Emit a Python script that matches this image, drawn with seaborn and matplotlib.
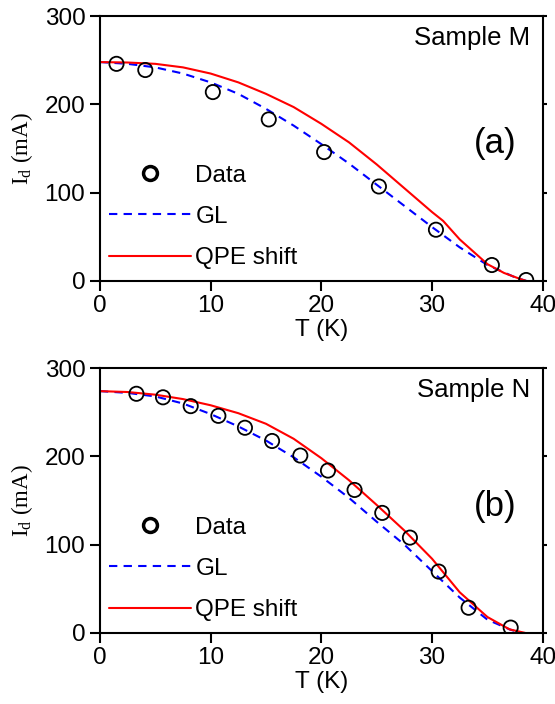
import matplotlib
matplotlib.use("Agg")
import matplotlib.pyplot as plt
from matplotlib.lines import Line2D
import pandas as pd
import seaborn as sns

# Sample M, panel (a)
temp_m = [1.5, 4.1, 10.2, 15.25, 20.25, 25.2, 30.35, 35.4, 38.5]
id_m = [246, 239, 214, 183, 146, 107, 58, 18, 1]

gl_temp_m = [0, 2.5, 5, 7.5, 10, 12.5, 15, 17.5, 20, 22.5, 25, 27.5, 30, 32.5, 35, 37.5, 38.5]
gl_m = [248, 246, 242, 235, 225, 212, 195, 176, 155, 133, 109, 85, 61, 38, 18, 4, 0]

qpe_temp_m = [0, 2.5, 5, 7.5, 10, 12.5, 15, 17.5, 20, 22.5, 25, 27.5, 30, 31, 32.5, 35, 36.5, 38, 38.5]
qpe_m = [248, 247.5, 246, 242, 235, 225, 212, 197, 178, 157, 132, 105, 78, 68, 47, 19, 9, 2, 0]

# Sample N, panel (b)
temp_n = [3.3, 5.7, 8.2, 10.7, 13.1, 15.55, 18.1, 20.6, 23.0, 25.5, 28.0, 30.6, 33.3, 37.1]
id_n = [271, 267, 257, 246, 232.5, 217.5, 201, 184, 162, 136, 108, 69.5, 28.5, 6]

gl_temp_n = [0, 2.5, 5, 7.5, 10, 12.5, 15, 17.5, 20, 22.5, 25, 27.5, 30, 32.5, 35, 37, 38]
gl_n = [274, 272, 268, 260, 248, 234, 218, 199, 177, 153, 126, 100, 70, 40, 15, 4, 0]

qpe_temp_n = [0, 2.5, 5, 7.5, 10, 12.5, 15, 17.5, 20, 22.5, 25, 27.5, 30, 32.5, 35, 37, 38.4]
qpe_n = [274, 273, 270, 265, 258, 249, 237, 220, 198, 173, 145, 116, 84, 46, 18, 4, 0]

x_ticks = [0, 10, 20, 30, 40]
y_ticks = [0, 100, 200, 300]

sns.set_theme(style="ticks")
plt.rcParams["font.family"] = ["Liberation Sans", "DejaVu Sans"]
plt.rcParams.update({
    "text.color": "black",
    "axes.labelcolor": "black",
    "axes.linewidth": 1.5,
    "axes.edgecolor": "black",
    "xtick.major.width": 1.5,
    "ytick.major.width": 1.5,
    "xtick.major.size": 7,
    "ytick.major.size": 7,
    "xtick.color": "black",
    "ytick.color": "black",
    "xtick.labelsize": 17.5,
    "ytick.labelsize": 17.5,
})

RED = "#ff0000"
BLUE = "#0000ff"


def draw_panel(ax, temp, cur, gl_t, gl, qpe_t, qpe, sample, tag, tag_y):
    sns.lineplot(x=gl_t, y=gl, ax=ax, color=BLUE, lw=1.5,
                 linestyle=(0, (4, 3)), sort=False)
    sns.lineplot(x=qpe_t, y=qpe, ax=ax, color=RED, lw=1.5, sort=False)
    sns.scatterplot(x=temp, y=cur, ax=ax, s=105, marker="o",
                    facecolor="none", edgecolor="black", linewidth=1.3, zorder=3)

    ax.set_xlim(0, 40)
    ax.set_ylim(0, 300)
    ax.set_xticks(x_ticks)
    ax.set_yticks(y_ticks)
    ax.tick_params(axis="y", right=True, labelright=False)
    for t in ax.yaxis.get_ticklines()[1::2]:
        t.set_markersize(3)
    ax.set_xlabel("T (K)", fontsize=17.5, labelpad=1)
    ax.set_ylabel("I$_\\mathregular{d}$ (mA)", fontsize=16.5,
                  family="Liberation Serif", labelpad=7)

    ax.text(0.972, 0.917, sample, transform=ax.transAxes, ha="right",
            va="center", fontsize=18.5)
    ax.text(0.892, tag_y, tag, transform=ax.transAxes, ha="center",
            va="center", fontsize=25)

    handles = [
        Line2D([], [], ls="none", marker="o", ms=10, mfc="none",
               mec="black", mew=2.5),
        Line2D([], [], color=BLUE, lw=1.5, ls=(0, (4, 3))),
        Line2D([], [], color=RED, lw=1.5),
    ]
    ax.legend(handles, ["Data", "GL", "QPE shift"], loc="lower left",
              bbox_to_anchor=(0.01, 0.025), frameon=False, fontsize=17.5,
              handlelength=3.35, handletextpad=0.2, labelspacing=0.8,
              borderpad=0.2, borderaxespad=0.0)


fig = plt.figure(figsize=(5.55, 7.04), dpi=100)
ax_a = fig.add_axes([0.180, 0.601, 0.798, 0.376])
ax_b = fig.add_axes([0.180, 0.101, 0.798, 0.376])

draw_panel(ax_a, temp_m, id_m, gl_temp_m, gl_m, qpe_temp_m, qpe_m,
           "Sample M", "(a)", 0.52)
draw_panel(ax_b, temp_n, id_n, gl_temp_n, gl_n, qpe_temp_n, qpe_n,
           "Sample N", "(b)", 0.477)

fig.savefig("out.png", dpi=100)
